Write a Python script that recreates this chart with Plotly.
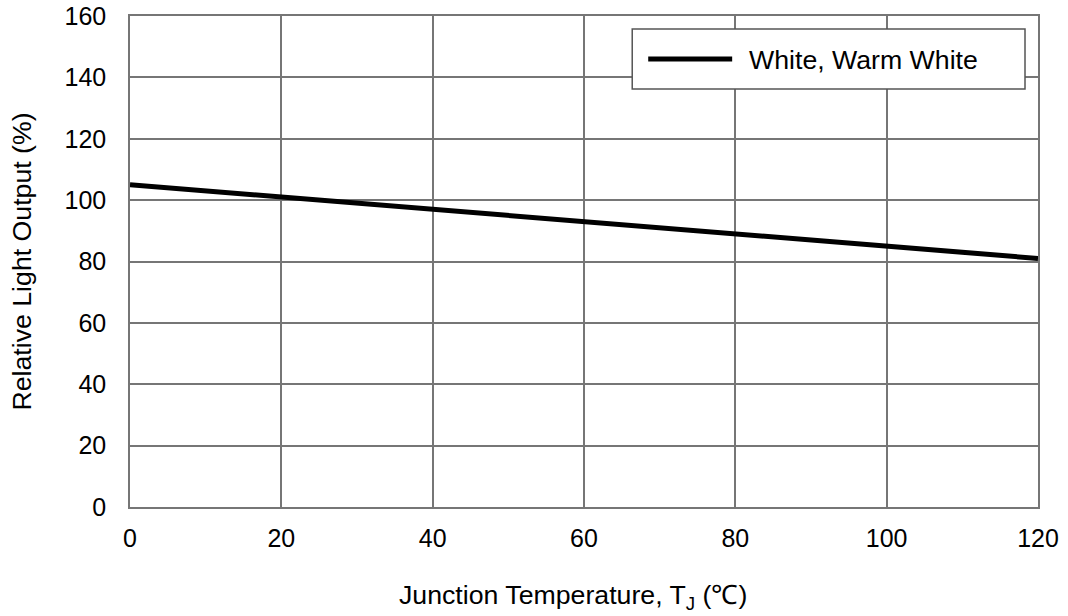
import plotly.graph_objects as go

temps = [0, 20, 40, 60, 80, 100, 120]
light_output = [105, 101, 97, 93, 89, 85, 81]
series_name = "White, Warm White"
x_ticks = [0, 20, 40, 60, 80, 100, 120]
y_ticks = [0, 20, 40, 60, 80, 100, 120, 140, 160]

FONT = "Liberation Sans, Arial, sans-serif"
GRID = "#767676"
TICK_SIZE = 25
TEXT_SIZE = 26.7

# plot area in pixels
PL, PR, PT, PB = 129.5, 1038, 16, 507
W, H = 1068, 616


def px(x):
    return (x - PL) / (PR - PL)


def py(y):
    return (PB - y) / (PB - PT)


fig = go.Figure()
fig.add_trace(go.Scatter(x=temps, y=light_output, mode="lines",
                         line=dict(color="black", width=5),
                         name=series_name, showlegend=False, hoverinfo="skip"))

axis_common = dict(showgrid=True, gridcolor=GRID, gridwidth=1.5,
                   showline=True, linecolor=GRID, linewidth=1.5, mirror=True,
                   zeroline=False, ticks="", automargin=False,
                   tickfont=dict(family=FONT, size=TICK_SIZE, color="black"))

fig.update_xaxes(range=[0, 120], tickvals=x_ticks, ticklabelstandoff=8, **axis_common)
fig.update_yaxes(range=[0, 160], tickvals=y_ticks, ticklabelstandoff=17, **axis_common)

# custom legend box
fig.add_shape(type="rect", xref="paper", yref="paper",
              x0=px(632), x1=px(1025), y0=py(89), y1=py(29),
              line=dict(color="#555", width=1.5), fillcolor="white", layer="above")
fig.add_shape(type="line", xref="paper", yref="paper",
              x0=px(648), x1=px(732), y0=py(59), y1=py(59),
              line=dict(color="black", width=5), layer="above")
fig.add_annotation(xref="paper", yref="paper", x=px(747), y=py(60),
                   text=series_name, showarrow=False, xanchor="left", yanchor="middle",
                   font=dict(family=FONT, size=TEXT_SIZE, color="black"))

fig.add_annotation(xref="paper", yref="paper", x=px(573), y=py(597),
                   text="Junction Temperature, T<sub>J</sub> (℃)",
                   showarrow=False, xanchor="center", yanchor="middle",
                   font=dict(family=FONT, size=TEXT_SIZE, color="black"))
fig.add_annotation(xref="paper", yref="paper", x=px(21), y=py(262),
                   text="Relative Light Output (%)", textangle=-90,
                   showarrow=False, xanchor="center", yanchor="middle",
                   font=dict(family=FONT, size=TEXT_SIZE, color="black"))

fig.update_layout(width=W, height=H, paper_bgcolor="white", plot_bgcolor="white",
                  margin=dict(l=PL, r=W - PR, t=PT, b=H - PB, pad=0), showlegend=False)

fig.write_html("out.html", config={"displayModeBar": False},
               post_script="document.body.style.margin='0';")
